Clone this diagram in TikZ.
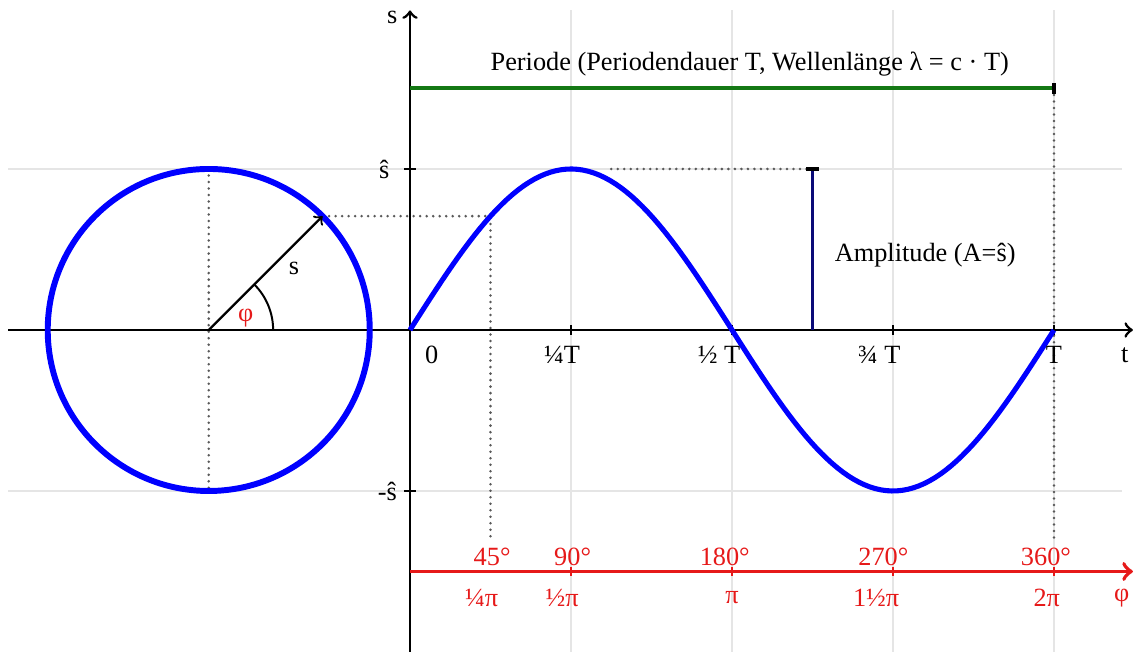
\documentclass[tikz,border=0pt]{standalone}
\usepackage{fontspec}
\setmainfont{Liberation Serif}
\usepackage{tikz}
\usetikzlibrary{arrows}
\definecolor{gridgray}{gray}{0.9}
\definecolor{pgreen}{RGB}{20,120,20}
\definecolor{pred}{RGB}{230,25,25}
\definecolor{pnavy}{RGB}{10,10,120}
\newcommand{\sh}{ŝ}
\tikzset{
  grid line/.style={gridgray, line width=1pt},
  axis/.style={->, line width=1pt},
  dots/.style={gray!70!black, line width=1pt, line cap=round, dash pattern=on 0pt off 2.3pt},
  wave/.style={blue, line width=1.8pt},
  redtext/.style={text=pred}
}

\begin{document}
\begin{tikzpicture}[>=to, font=\fontsize{9.3}{11}\selectfont]
        \useasboundingbox (-5.093,-4.0) rectangle (9.006,4.099);
        \coordinate (O) at (0,0);
        \coordinate (M) at (-2.5,0);
        \coordinate (P) at (-1.086,1.414);
        \coordinate (Q) at (1,1.414);
        \draw[grid line] (-4.99,2)--(8.84,2) (-4.99,-2)--(8.84,-2);
        \foreach \x in {2,4,6,8} \draw[grid line] (\x,3.97)--(\x,-4);
        \draw[dots] (-2.5,2)--(-2.5,-2);
        \draw[dots] (P)--(Q)--(1,-2.6);
        \draw[dots] (2.5,2)--(4.95,2);
        \draw[dots] (8,3)--(8,-2.6);
        \draw[axis] (-4.99,0)--(8.98,0);
        \draw[axis] (0,-4)--(0,3.97);
        \foreach \x in {2,4,6,8} \draw[line width=0.8pt] (\x,0.06)--(\x,-0.06);
        \foreach \y in {2,-2} \draw[line width=0.8pt] (-0.07,\y)--(0.07,\y);
        \draw[blue, line width=2.1pt] (M) circle (2);
        \draw[->, line width=0.8pt] (M)--(P);
        \draw[line width=0.7pt] (-1.7,0) arc (0:45:0.8);
        \draw[wave] plot[domain=0:8, samples=120] (\x,{2*sin(\x*45)});
        \draw[pgreen, line width=1.4pt] (0,3)--(8,3);
        \draw[line width=1.4pt] (8,3.07)--(8,2.93);
        \draw[pnavy, line width=1.3pt] (5,0)--(5,2);
        \draw[line width=1.3pt] (4.92,2)--(5.08,2);
        \draw[pred, line width=1.4pt, ->] (0,-3)--(8.98,-3);
        \foreach \x in {2,4,6,8} \draw[pred, line width=0.8pt] (\x,-2.94)--(\x,-3.06);
        \node (s) at (-0.22,3.88) {s};
        \node (t) at (8.88,-0.31) {t};
        \node (S1) at (-0.32,2) {\sh};
        \node (S2) at (-0.28,-2) {-\sh};
        \node (T0) at (0.27,-0.31) {0};
        \node (T1) at (1.89,-0.31) {¼T};
        \node (T2) at (3.84,-0.31) {½ T};
        \node (T3) at (5.83,-0.31) {¾ T};
        \node (T4) at (8,-0.31) {T};
        \node (per) at (4.22,3.3) {Periode (Periodendauer T, Wellenlänge λ = c · T)};
        \node (amp) at (6.4,0.93) {Amplitude (A=\sh)};
        \node (sv) at (-1.44,0.77) {s};
        \node[redtext] (ang) at (-2.04,0.15) {φ};
        \node[redtext] (D1) at (1.02,-2.82) {45°};
        \node[redtext] (D2) at (2.02,-2.82) {90°};
        \node[redtext] (D3) at (3.91,-2.82) {180°};
        \node[redtext] (D4) at (5.88,-2.82) {270°};
        \node[redtext] (D5) at (7.9,-2.82) {360°};
        \node[redtext] (R1) at (0.89,-3.33) {¼π};
        \node[redtext] (R2) at (1.89,-3.33) {½π};
        \node[redtext] (R3) at (4,-3.33) {π};
        \node[redtext] (R4) at (5.79,-3.33) {1½π};
        \node[redtext] (R5) at (7.91,-3.33) {2π};
        \node[redtext] (phi) at (8.84,-3.33) {φ};
    \end{tikzpicture}
\end{document}
